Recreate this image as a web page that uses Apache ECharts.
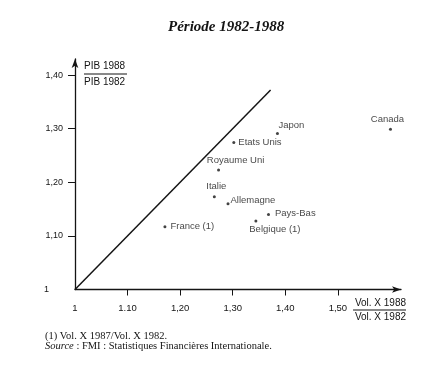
<!DOCTYPE html>
<html>
<head>
<meta charset="utf-8">
<script src="https://cdn.jsdelivr.net/npm/echarts@6/dist/echarts.min.js"></script>
<style>
  html, body { margin: 0; padding: 0; background: #fff; }
  #main { width: 440px; height: 378px; }
</style>
</head>
<body>
<div id="main"></div>
<script>
// pays et valeurs
var pays = ['Japon', 'Canada', 'Etats Unis', 'Royaume Uni', 'Italie', 'Allemagne', 'Pays-Bas', 'Belgique (1)', 'France (1)'];
var volume = [1.385, 1.60, 1.302, 1.273, 1.265, 1.291, 1.368, 1.344, 1.171];   // Vol. X 1988 / Vol. X 1982
var pib = [1.291, 1.299, 1.274, 1.223, 1.173, 1.160, 1.140, 1.128, 1.117];     // PIB 1988 / PIB 1982
var diagonale = [1, 1.372];

var xTicks = [1, 1.1, 1.2, 1.3, 1.4, 1.5];
var xTickLabels = ['1', '1.10', '1,20', '1,30', '1,40', '1,50'];
var yTicks = [1, 1.1, 1.2, 1.3, 1.4];
var yTickLabels = ['1', '1,10', '1,20', '1,30', '1,40'];

var ink = '#141414';
var sans = 'Liberation Sans';
var serif = 'Liberation Serif';

// placement des étiquettes
var placement = {
  'Japon':        {position: 'top', offset: [14, 0], distance: 2},
  'Canada':       {position: 'top', offset: [-3, 0], distance: 3},
  'Etats Unis':   {position: 'right', offset: [0, 0], distance: 3},
  'Royaume Uni':  {position: 'top', offset: [17, 0], distance: 3},
  'Italie':       {position: 'top', offset: [2, 0], distance: 4},
  'Allemagne':    {position: 'right', offset: [0, -3], distance: 1},
  'Pays-Bas':     {position: 'right', offset: [0, -1], distance: 5},
  'Belgique (1)': {position: 'bottom', offset: [19, 0], distance: 2},
  'France (1)':   {position: 'right', offset: [0, 0], distance: 4}
};

var points = pays.map(function (p, i) {
  var pl = placement[p];
  return {
    name: p,
    value: [volume[i], pib[i]],
    label: {position: pl.position, offset: pl.offset, distance: pl.distance}
  };
});

function lookup(ticks, labels) {
  return function (v) {
    for (var i = 0; i < ticks.length; i++) {
      if (Math.abs(ticks[i] - v) < 1e-6) return labels[i];
    }
    return '';
  };
}

var chart = echarts.init(document.getElementById('main'));

chart.setOption({
  backgroundColor: '#fff',
  animation: false,
  title: [{
    text: 'Période 1982-1988',
    left: 163,
    top: 15,
    textStyle: {fontFamily: serif, fontStyle: 'italic', fontWeight: 'bold', fontSize: 15, color: ink}
  }, {
    text: '(1) Vol. X 1987/Vol. X 1982.\n{i|Source} : FMI : Statistiques Financières Internationale.',
    left: 40,
    top: 326,
    textStyle: {
      fontFamily: serif, fontWeight: 'normal', fontSize: 10.5, color: ink, lineHeight: 10,
      rich: {i: {fontFamily: serif, fontStyle: 'italic', fontSize: 10.5, color: ink, lineHeight: 10}}
    }
  }],
  grid: {left: 75, top: 59, right: 39, bottom: 88.5},
  xAxis: {
    type: 'value',
    min: 1,
    max: 1.62,
    name: '{t|Vol. X 1988}\n{bar|}\n{t|Vol. X 1982}',
    nameLocation: 'end',
    nameGap: 0,
    nameTextStyle: {
      align: 'right', verticalAlign: 'top', padding: [8, 4, 0, 0],
      rich: {
        t: {fontFamily: sans, fontSize: 10, color: ink, lineHeight: 11},
        bar: {width: 53, height: 1, backgroundColor: ink, lineHeight: 3}
      }
    },
    axisLine: {lineStyle: {color: ink, width: 1.3}, symbol: ['none', 'arrow'], symbolSize: [5, 9]},
    axisTick: {customValues: xTicks.slice(1), length: 6, lineStyle: {color: ink, width: 1}},
    axisLabel: {
      customValues: xTicks, formatter: lookup(xTicks, xTickLabels),
      margin: 14, fontFamily: sans, fontSize: 9.5, color: ink
    },
    splitLine: {show: false}
  },
  yAxis: {
    type: 'value',
    min: 1,
    max: 1.43,
    name: '{t|PIB 1988}\n{bar|}\n{t|PIB 1982}',
    nameLocation: 'end',
    nameGap: -2,
    nameTextStyle: {
      align: 'left', verticalAlign: 'top', padding: [0, 0, 0, 9],
      rich: {
        t: {fontFamily: sans, fontSize: 10, color: ink, lineHeight: 10},
        bar: {width: 43, height: 1, backgroundColor: ink, lineHeight: 6}
      }
    },
    axisLine: {lineStyle: {color: ink, width: 1.3}, symbol: ['none', 'arrow'], symbolSize: [5, 9]},
    axisTick: {customValues: yTicks.slice(1), length: 7, lineStyle: {color: ink, width: 1}},
    axisLabel: {
      customValues: yTicks,
      formatter: function (v) {
        var s = lookup(yTicks, yTickLabels)(v);
        return v === 1 ? '{o|' + s + '}' : s;
      },
      margin: 12, fontFamily: sans, fontSize: 9, color: ink,
      rich: {o: {fontFamily: sans, fontSize: 9, color: ink, padding: [0, 14, 0, 0]}}
    },
    splitLine: {show: false}
  },
  series: [{
    type: 'line',
    data: [[diagonale[0], diagonale[0]], [diagonale[1], diagonale[1]]],
    symbol: 'none',
    lineStyle: {color: ink, width: 1.5},
    silent: true
  }, {
    type: 'scatter',
    data: points,
    symbol: 'circle',
    symbolSize: 3,
    itemStyle: {color: ink},
    label: {
      show: true,
      formatter: '{b}',
      fontFamily: sans,
      fontSize: 9.5,
      color: ink
    }
  }]
});
</script>
</body>
</html>
